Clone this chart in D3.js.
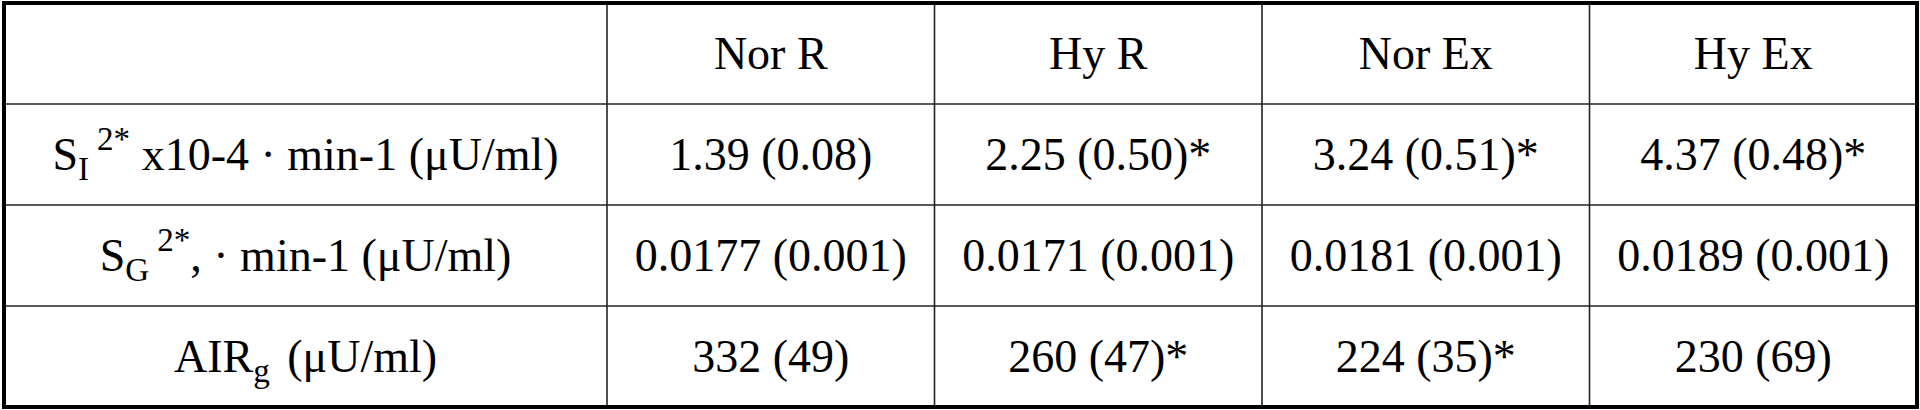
<!DOCTYPE html>
<html><head><meta charset="utf-8">
<script src="https://cdn.jsdelivr.net/npm/d3@7"></script>
<style>body{margin:0;background:#fff}text{font-family:"Liberation Serif","Times New Roman",serif;fill:#000}</style>
</head><body><svg id="c" width="1920" height="410"></svg>
<script>
const columns = ["", "Nor R", "Hy R", "Nor Ex", "Hy Ex"];
const rowLabels = [
  {main:"S", sub:"I", sup:"2*", rest:" x10-4 · min-1 (μU/ml)"},
  {main:"S", sub:"G", sup:"2*", rest:", · min-1 (μU/ml)"},
  {main:"AIR", sub:"g", sup:"", rest:" (μU/ml)"}
];
const norR  = ["1.39 (0.08)", "0.0177 (0.001)", "332 (49)"];
const hyR   = ["2.25 (0.50)*", "0.0171 (0.001)", "260 (47)*"];
const norEx = ["3.24 (0.51)*", "0.0181 (0.001)", "224 (35)*"];
const hyEx  = ["4.37 (0.48)*", "0.0189 (0.001)", "230 (69)"];
const series = [norR, hyR, norEx, hyEx];

const svg = d3.select("#c");
const xL = 4, xR = 1917, yT = 3, yB = 407, firstW = 603;
const x = d3.scaleBand().domain(columns.slice(1)).range([xL + firstW, xR]);
const y = d3.scaleBand().domain(d3.range(4)).range([yT, yB]);
const fs = 46;

const g = svg.append("g");
x.domain().forEach(c => g.append("line").attr("x1", x(c)).attr("x2", x(c)).attr("y1", yT).attr("y2", yB).attr("stroke", "#222").attr("stroke-width", 1.6));
d3.range(1,4).forEach(r => g.append("line").attr("x1", xL).attr("x2", xR).attr("y1", y(r)).attr("y2", y(r)).attr("stroke", "#222").attr("stroke-width", 1.6));
svg.append("rect").attr("x", xL).attr("y", yT).attr("width", xR-xL).attr("height", yB-yT).attr("fill", "none").attr("stroke", "#000").attr("stroke-width", 4);

const base = r => y(r) + y.bandwidth()*0.5 + fs*0.33;
x.domain().forEach(c => svg.append("text").attr("x", x(c)+x.bandwidth()/2).attr("y", base(0)).attr("text-anchor","middle").attr("font-size", fs).text(c));
const labX = xL + firstW/2;
rowLabels.forEach((l,i) => {
  const t = svg.append("text").attr("x", labX).attr("y", base(i+1)).attr("text-anchor","middle").attr("font-size", fs);
  t.append("tspan").text(l.main);
  t.append("tspan").attr("font-size", fs*0.72).attr("dy", 10).text(l.sub);
  if (l.sup) t.append("tspan").attr("font-size", fs*0.72).attr("dy", -30).attr("dx", 8).text(l.sup);
  t.append("tspan").attr("dy", l.sup ? 20 : -10).attr("dx", l.sup ? 0 : 6).text(l.rest);
});
series.forEach((s, ci) => s.forEach((v, ri) => {
  svg.append("text").attr("x", x(columns[ci+1]) + x.bandwidth()/2).attr("y", base(ri+1)).attr("text-anchor","middle").attr("font-size", fs).text(v);
}));
</script></body></html>
